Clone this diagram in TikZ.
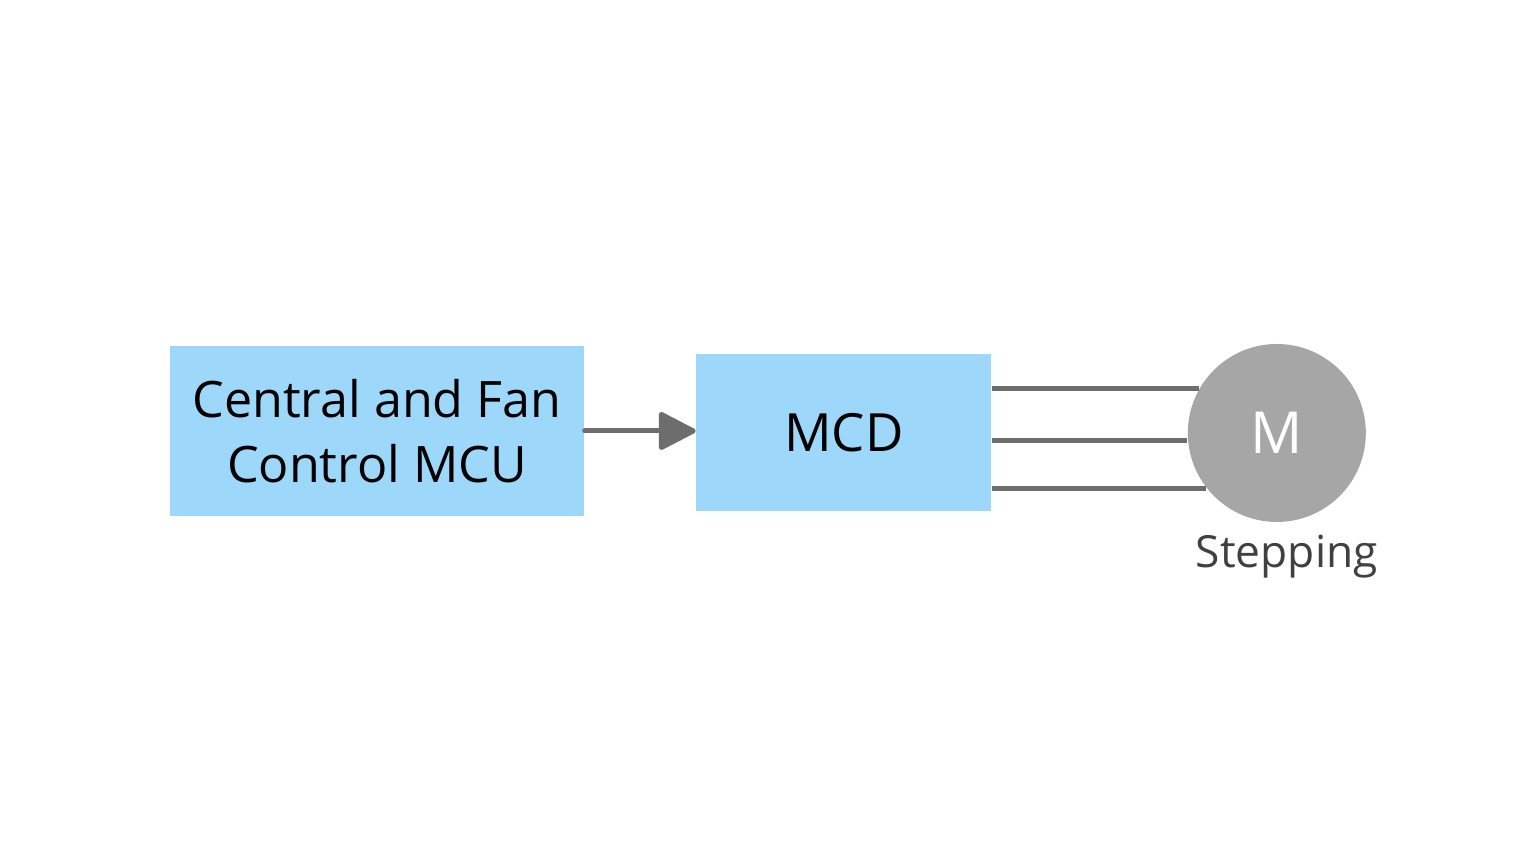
\documentclass[tikz,border=0pt]{standalone}
\usepackage{fontspec}
\setmainfont{Open Sans}
\usepackage{xcolor}
\usetikzlibrary{arrows.meta,positioning}
\definecolor{boxblue}{HTML}{9DD7F9}
\definecolor{wiregray}{HTML}{6D6D6D}
\definecolor{motorgray}{HTML}{A6A6A6}
\definecolor{labelgray}{HTML}{404040}
\tikzset{
	block/.style = {shape=rectangle, fill=boxblue, inner sep=0pt, align=center},
	motor/.style = {shape=circle, fill=motorgray, inner sep=0pt, minimum size=1.78cm, text=white, font=\fontsize{16.5}{18}\selectfont},
	wire/.style = {draw=wiregray, line width=0.05cm}
}
\begin{document}
\begin{tikzpicture}[
    node distance=1.11cm,
    link/.style={
        wire,
        line cap=round,
        -{Triangle[length=0.4cm,width=0.4cm,round=false]}
        }]
    \useasboundingbox (0,0) rectangle (15.36,8.64);

 		\node[block, minimum width=4.14cm, minimum height=1.70cm, font=\fontsize{14.3}{18.5}\selectfont] (mcu) at (3.77,4.33) {Central and Fan\\Control MCU};
 		\node[block, right=1.11cm of mcu, yshift=-0.015cm, minimum width=2.95cm, minimum height=1.57cm, font=\fontsize{15}{18}\selectfont] (mcd) {MCD};
 		\node[motor, right=1.95cm of mcd, yshift=-0.005cm] (m) {M};
 		\node[below=0.12cm of m, xshift=0.1cm, inner sep=0pt, text=labelgray, font=\fontsize{12.6}{15}\selectfont] (steplabel) {Stepping};

 		\draw[link] (mcu.east) -- (mcu.east -| mcd.west);
 		\draw[wire] (m.150 -| mcd.east) -- (m.150);
 		\draw[wire] (m.185 -| mcd.east) -- (m.185);
 		\draw[wire] (m.218 -| mcd.east) -- (m.218);
 	\end{tikzpicture}
\end{document}
